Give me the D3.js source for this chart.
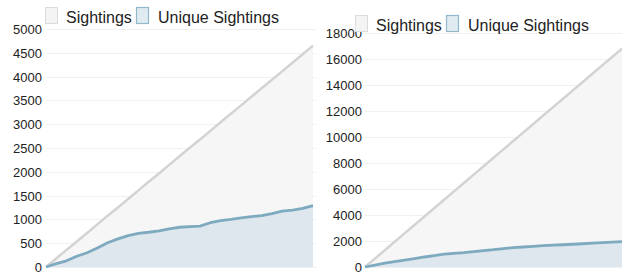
<!DOCTYPE html>
<html lang="en">
<head>
<meta charset="UTF-8">
<title>Sightings vs Unique Sightings</title>
<script src="https://cdn.jsdelivr.net/npm/d3@7"></script>
<style>
body{
	margin:0;
	background:#fff;
}
svg text{
	font-family:"Liberation Sans", Arial, Helvetica, sans-serif;
	fill:#222;
}
.grid line{
	stroke:#f0f0f0;
	stroke-width:1px;
	shape-rendering:crispEdges;
}
.grid path, .yaxis path{
	display:none;
}
.yaxis text{
	font-size:13px;
}
.legend text{
	font-size:16px;
}
</style>
</head>
<body>
<script>
// cumulative counts, one point per step
var steps = d3.range(27);

var sightingsA = [0,180,360,535,715,895,1075,1250,1430,1610,1790,1965,2145,2325,2505,2680,2860,3040,3220,3395,3575,3755,3935,4110,4290,4470,4650];
var uniqueA = [0,70,130,225,300,400,510,590,660,705,730,760,800,835,850,860,930,975,1000,1030,1060,1080,1120,1175,1195,1230,1290];

var sightingsB = [0,646,1292,1938,2585,3231,3877,4523,5169,5815,6462,7108,7754,8400,9046,9692,10338,10985,11631,12277,12923,13569,14215,14862,15508,16154,16800];
var uniqueB = [0,150,300,420,530,640,770,880,985,1050,1110,1190,1260,1330,1420,1490,1540,1590,1640,1680,1710,1750,1790,1830,1870,1910,1950];

var ticksA = d3.range(0, 5001, 500);
var ticksB = d3.range(0, 18001, 2000);

var legendLabels = ["Sightings", "Unique Sightings"];

var colors = {
	sLine:"#d3d3d3", sFill:"#f6f6f7", sBox:"#f4f4f4", sBoxStroke:"#dcdcdc",
	uLine:"#7eaabf", uFill:"#dde7ed", uBox:"#dfeaf1", uBoxStroke:"#93b8cb"
};

var svg = d3.select("body").append("svg").attr("width", 622).attr("height", 276);

function drawChart(cfg){
	var g = svg.append("g");
	var x = d3.scaleLinear().domain([0, steps.length-1]).range([cfg.left, cfg.right]);
	var y = d3.scaleLinear().domain([0, cfg.max]).range([cfg.bottom, cfg.top]);

	// grid
	g.append("g").attr("class","grid")
		.attr("transform","translate(" + cfg.left + ",0)")
		.call(d3.axisLeft(y).tickValues(cfg.ticks).tickSize(-(cfg.gridRight - cfg.left)).tickFormat(""));

	var area = function(vals){
		return d3.area().x(function(d,i){ return x(i); }).y0(y(0)).y1(function(d){ return y(d); })(vals);
	};
	var line = function(vals){
		return d3.line().x(function(d,i){ return x(i); }).y(function(d){ return y(d); })(vals);
	};

	g.append("path").attr("d", area(cfg.s)).attr("fill", colors.sFill);
	g.append("path").attr("d", area(cfg.u)).attr("fill", colors.uFill);
	g.append("path").attr("d", line(cfg.s)).attr("fill","none").attr("stroke", colors.sLine).attr("stroke-width",2.5);
	g.append("path").attr("d", line(cfg.u)).attr("fill","none").attr("stroke", colors.uLine).attr("stroke-width",2.8).attr("stroke-linejoin","round");

	// y labels
	g.append("g").attr("class","yaxis")
		.attr("transform","translate(" + cfg.left + ",0)")
		.call(d3.axisLeft(y).tickValues(cfg.ticks).tickSize(0).tickPadding(cfg.left - cfg.labelX).tickFormat(d3.format("d")))
		.selectAll("text").attr("dy","0.35em");

	// legend
	var lg = g.append("g").attr("class","legend").attr("transform","translate(" + cfg.legX + "," + cfg.legY + ")");
	lg.append("rect").attr("x",0.5).attr("y",0.5).attr("width",12).attr("height",16)
		.attr("fill", colors.sBox).attr("stroke", colors.sBoxStroke);
	lg.append("text").attr("x",21).attr("y",16).text(legendLabels[0]);
	lg.append("rect").attr("x",91.5).attr("y",0.5).attr("width",12).attr("height",16)
		.attr("fill", colors.uBox).attr("stroke", colors.uBoxStroke).attr("stroke-width",1.2);
	lg.append("text").attr("x",113).attr("y",16).text(legendLabels[1]);
}

drawChart({left:46, right:313, gridRight:316, top:29, bottom:267, max:5000, ticks:ticksA,
	labelX:42, legX:45, legY:7, s:sightingsA, u:uniqueA});
drawChart({left:365, right:622, gridRight:622, top:33, bottom:267, max:18000, ticks:ticksB,
	labelX:362, legX:355, legY:15, s:sightingsB, u:uniqueB});
</script>
</body>
</html>
